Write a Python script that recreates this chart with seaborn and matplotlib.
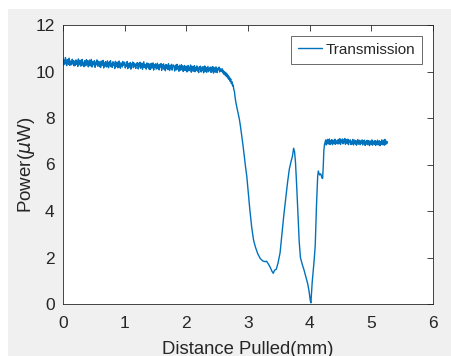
import numpy as np
import matplotlib
matplotlib.use("Agg")
import matplotlib.pyplot as plt
import seaborn as sns
import pandas as pd
from matplotlib.patches import Rectangle

# ---- data ----
plateau1_start, plateau1_step = 0.0, 0.01
plateau1_power = [
    10.55, 10.28, 10.49, 10.33, 10.60, 10.36, 10.25, 10.51, 10.42, 10.30, 10.57, 10.26, 10.45, 10.38, 10.29, 10.53, 10.34, 10.47, 10.24, 10.44,
    10.26, 10.50, 10.31, 10.45, 10.22, 10.54, 10.36, 10.29, 10.48, 10.23, 10.41, 10.52, 10.27, 10.39, 10.21, 10.47, 10.33, 10.25, 10.51, 10.30,
    10.46, 10.20, 10.38, 10.49, 10.24, 10.31, 10.52, 10.19, 10.43, 10.28, 10.36, 10.47, 10.18, 10.40, 10.30, 10.50, 10.23, 10.35, 10.44, 10.21,
    10.39, 10.17, 10.45, 10.26, 10.34, 10.48, 10.15, 10.37, 10.22, 10.43, 10.29, 10.19, 10.46, 10.32, 10.16, 10.41, 10.25, 10.47, 10.20, 10.35,
    10.18, 10.42, 10.27, 10.36, 10.13, 10.44, 10.30, 10.21, 10.40, 10.16, 10.33, 10.45, 10.24, 10.14, 10.38, 10.29, 10.19, 10.43, 10.26, 10.34,
    10.40, 10.15, 10.31, 10.22, 10.43, 10.12, 10.35, 10.26, 10.18, 10.39, 10.10, 10.33, 10.28, 10.41, 10.16, 10.37, 10.21, 10.30, 10.13, 10.36,
    10.27, 10.38, 10.11, 10.33, 10.20, 10.40, 10.14, 10.29, 10.36, 10.09, 10.25, 10.42, 10.17, 10.31, 10.23, 10.10, 10.37, 10.19, 10.34, 10.12,
    10.32, 10.08, 10.26, 10.35, 10.14, 10.22, 10.37, 10.06, 10.29, 10.18, 10.33, 10.10, 10.24, 10.36, 10.12, 10.28, 10.07, 10.31, 10.20, 10.34,
    10.05, 10.29, 10.17, 10.33, 10.09, 10.24, 10.03, 10.30, 10.14, 10.27, 10.08, 10.34, 10.19, 10.04, 10.26, 10.12, 10.31, 10.06, 10.22, 10.28,
    10.25, 10.02, 10.19, 10.28, 10.07, 10.31, 10.11, 10.22, 10.01, 10.27, 10.15, 10.05, 10.29, 10.09, 10.24, 10.00, 10.18, 10.26, 10.04, 10.21,
    10.23, 9.98, 10.14, 10.26, 10.03, 10.19, 10.08, 10.28, 9.97, 10.16, 10.22, 10.01, 10.11, 10.25, 9.99, 10.18, 10.06, 10.24, 10.02, 10.13,
    9.95, 10.20, 10.09, 10.23, 9.98, 10.15, 10.04, 10.21, 9.94, 10.12, 10.24, 10.00, 10.17, 9.96, 10.10, 10.22, 9.99, 10.14, 10.05, 10.19,
    9.96, 10.18, 10.02, 10.21, 9.93, 10.11, 10.16, 9.97, 10.20, 10.04, 9.95, 10.14, 10.08, 10.19, 9.98, 10.12, 10.06,
]

transition_distance = [
    2.57, 2.58, 2.59, 2.60, 2.61, 2.62, 2.63, 2.64, 2.65, 2.66, 2.67, 2.68,
    2.69, 2.70, 2.71, 2.72, 2.73, 2.74, 2.75, 2.76, 2.77, 2.78, 2.79, 2.80,
    2.82, 2.86, 2.88, 2.92, 2.96, 2.98, 3.00, 3.03, 3.06, 3.09, 3.12, 3.16,
    3.20, 3.24, 3.28, 3.30, 3.33, 3.36, 3.39, 3.41, 3.43, 3.46, 3.49, 3.52,
    3.55, 3.58, 3.61, 3.64, 3.67, 3.70, 3.72, 3.74, 3.755, 3.77, 3.79, 3.81,
    3.83, 3.85, 3.88, 3.91, 3.94, 3.97, 3.99, 4.01, 4.02, 4.04, 4.07, 4.09,
    4.11, 4.13, 4.14, 4.16, 4.18, 4.20, 4.21, 4.22, 4.23, 4.24, 4.25,
]
transition_power = [
    10.00, 10.12, 9.94, 10.05, 9.88, 9.99, 9.84, 9.95, 9.78, 9.90, 9.72, 9.83,
    9.66, 9.76, 9.58, 9.68, 9.48, 9.56, 9.38, 9.42, 9.22, 9.15, 8.90, 8.72,
    8.45, 7.95, 7.60, 6.80, 5.90, 5.50, 4.90, 4.05, 3.30, 2.75, 2.45, 2.15,
    1.95, 1.85, 1.82, 1.84, 1.72, 1.58, 1.40, 1.32, 1.45, 1.50, 1.80, 2.20,
    3.00, 3.80, 4.50, 5.20, 5.80, 6.15, 6.35, 6.70, 6.55, 6.10, 5.05, 3.90,
    2.70, 2.00, 1.70, 1.45, 1.15, 0.85, 0.55, 0.15, 0.05, 0.90, 1.80, 2.50,
    4.20, 5.50, 5.72, 5.55, 5.60, 5.42, 5.40, 5.90, 6.60, 6.85, 6.95,
]

plateau2_start, plateau2_step = 4.26, 0.01
plateau2_power = [
    7.06, 6.84, 6.99, 7.08, 6.88, 6.95, 7.10, 6.86, 7.02, 6.91, 7.07, 6.85, 6.97, 7.04, 6.89, 7.09, 6.87, 7.00, 6.93, 7.05,
    6.88, 7.08, 6.92, 7.11, 6.86, 7.03, 6.95, 7.10, 6.89, 7.06, 6.94, 7.12, 6.87, 7.01, 7.07, 6.90, 7.09, 6.85, 7.04, 6.96,
    7.06, 6.86, 7.00, 6.89, 7.08, 6.84, 6.97, 7.05, 6.88, 7.02, 6.83, 6.99, 7.07, 6.87, 6.95, 7.04, 6.85, 7.01, 6.90, 7.06,
    6.84, 7.02, 6.91, 7.05, 6.82, 6.97, 6.88, 7.04, 6.85, 6.99, 7.03, 6.81, 6.94, 7.01, 6.86, 7.06, 6.83, 6.96, 7.00, 6.87,
    7.03, 6.82, 6.98, 6.89, 7.05, 6.84, 6.95, 7.02, 6.81, 6.99, 6.87, 7.06, 6.85, 6.97, 7.04, 6.83, 7.08, 6.86, 7.01, 6.90,
    6.98,
]

series_label = "Transmission"
x_ticks = [0, 1, 2, 3, 4, 5, 6]
y_ticks = [0, 2, 4, 6, 8, 10, 12]

# ---- assemble ----
d1 = np.round(plateau1_start + plateau1_step * np.arange(len(plateau1_power)), 4)
d3 = np.round(plateau2_start + plateau2_step * np.arange(len(plateau2_power)), 4)
distance = np.concatenate([d1, transition_distance, d3])
power = np.concatenate([plateau1_power, transition_power, plateau2_power])
df = pd.DataFrame({"distance": distance, "power": power, "series": series_label})

# ---- style ----
sns.set_style("white")
plt.rcParams["font.family"] = ["Liberation Sans", "DejaVu Sans"]
plt.rcParams["mathtext.fontset"] = "dejavusans"

W, H = 452, 356
fig = plt.figure(figsize=(W / 100, H / 100), dpi=100, facecolor="white")
fig.patches.append(Rectangle((8 / W, 0), 1 - 8 / W, 1 - 9 / H,
                             transform=fig.transFigure, facecolor="#f0f0f0",
                             edgecolor="none", zorder=-10))
ax = fig.add_axes([63 / W, 52 / H, 370 / W, 279 / H])
ax.set_facecolor("white")

sns.lineplot(data=df, x="distance", y="power", hue="series",
             palette=["#0072BD"], sort=False, estimator=None,
             linewidth=1.0, ax=ax)

ax.set_xlim(0, 6)
ax.set_ylim(0, 12)
ax.set_xticks(x_ticks)
ax.set_yticks(y_ticks)
ax.tick_params(direction="in", length=4, width=0.6, top=True, right=True,
               colors="#262626", labelsize=12.5, labelcolor="#262626")
ax.tick_params(axis="x", pad=9)
ax.tick_params(axis="y", pad=6)
for s in ax.spines.values():
    s.set_color("#262626")
    s.set_linewidth(0.6)

ax.set_xlabel("Distance Pulled(mm)", fontsize=13.3, color="#262626", labelpad=7)
ax.set_ylabel(r"Power($\mu$W)", fontsize=13.5, color="#262626", labelpad=-1)

leg = ax.legend(loc="upper right", fontsize=11, frameon=True, fancybox=False,
                edgecolor="#262626", handlelength=1.6, borderpad=0.45,
                handletextpad=0.2, borderaxespad=0.0,
                bbox_to_anchor=(0.970, 0.961))
leg.get_frame().set_linewidth(0.6)
for t in leg.get_texts():
    t.set_color("#262626")

fig.savefig("out.png", dpi=100, facecolor=fig.get_facecolor())
